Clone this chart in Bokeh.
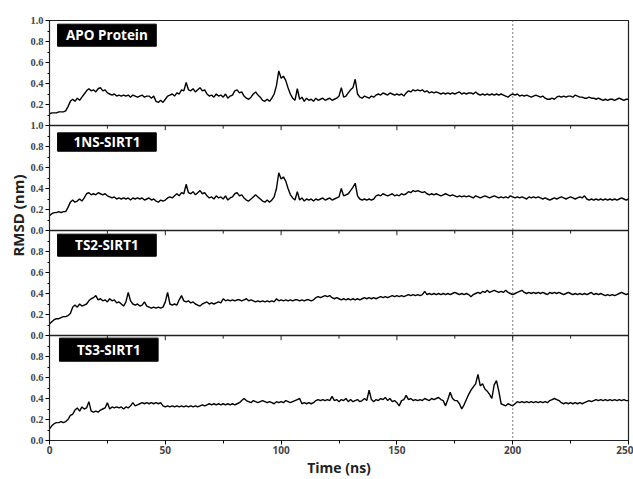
from bokeh.plotting import figure
from bokeh.models import Range1d, LinearAxis, FixedTicker, Span, ColumnDataSource, Title
from bokeh.core.properties import value
from bokeh.embed import file_html
from bokeh.resources import INLINE

# ---------------- data ----------------
time_ns = list(range(0, 251))

rmsd_apo = [
    0.11,0.12,0.12,0.12,0.13,0.13,0.13,0.14,0.18,0.23,
    0.25,0.23,0.26,0.24,0.27,0.30,0.33,0.35,0.33,0.34,
    0.32,0.35,0.36,0.33,0.34,0.31,0.30,0.29,0.30,0.28,
    0.29,0.28,0.29,0.28,0.29,0.27,0.29,0.28,0.27,0.28,
    0.29,0.27,0.28,0.28,0.26,0.28,0.23,0.22,0.24,0.22,
    0.25,0.28,0.29,0.30,0.28,0.31,0.30,0.34,0.33,0.41,
    0.34,0.33,0.35,0.32,0.34,0.36,0.33,0.34,0.30,0.28,
    0.29,0.27,0.30,0.28,0.29,0.27,0.30,0.26,0.28,0.29,
    0.33,0.34,0.31,0.32,0.28,0.26,0.25,0.27,0.30,0.32,
    0.29,0.27,0.24,0.23,0.25,0.23,0.26,0.30,0.38,0.52,
    0.45,0.47,0.43,0.36,0.30,0.26,0.24,0.35,0.25,0.27,
    0.23,0.26,0.24,0.25,0.23,0.26,0.24,0.25,0.26,0.24,
    0.25,0.26,0.24,0.25,0.26,0.28,0.36,0.27,0.28,0.31,
    0.34,0.36,0.44,0.30,0.27,0.26,0.28,0.27,0.26,0.28,
    0.27,0.29,0.30,0.29,0.31,0.30,0.29,0.31,0.30,0.29,
    0.30,0.29,0.30,0.28,0.31,0.33,0.32,0.34,0.33,0.34,
    0.33,0.34,0.32,0.33,0.31,0.32,0.31,0.32,0.31,0.30,
    0.31,0.30,0.31,0.30,0.31,0.30,0.31,0.32,0.30,0.31,
    0.30,0.31,0.31,0.30,0.32,0.30,0.29,0.30,0.29,0.30,
    0.29,0.30,0.29,0.30,0.29,0.30,0.29,0.28,0.27,0.29,
    0.30,0.29,0.30,0.28,0.29,0.28,0.29,0.28,0.27,0.28,
    0.29,0.28,0.27,0.28,0.26,0.25,0.25,0.26,0.25,0.27,
    0.28,0.27,0.28,0.27,0.28,0.28,0.27,0.29,0.28,0.27,
    0.27,0.26,0.26,0.27,0.26,0.26,0.25,0.26,0.25,0.24,
    0.25,0.24,0.25,0.25,0.24,0.25,0.26,0.25,0.24,0.25,0.25,
]

rmsd_1ns = [
    0.14,0.16,0.17,0.17,0.18,0.17,0.18,0.18,0.22,0.27,
    0.29,0.27,0.28,0.30,0.28,0.31,0.35,0.36,0.34,0.35,
    0.34,0.36,0.35,0.34,0.35,0.33,0.32,0.31,0.32,0.30,
    0.31,0.30,0.31,0.30,0.31,0.29,0.31,0.30,0.31,0.30,
    0.31,0.29,0.30,0.31,0.29,0.30,0.28,0.27,0.29,0.28,
    0.29,0.31,0.32,0.31,0.33,0.35,0.33,0.36,0.35,0.44,
    0.36,0.35,0.37,0.34,0.36,0.38,0.35,0.36,0.33,0.31,
    0.32,0.30,0.33,0.31,0.32,0.30,0.33,0.29,0.31,0.32,
    0.35,0.36,0.33,0.34,0.31,0.29,0.28,0.30,0.32,0.34,
    0.32,0.30,0.28,0.27,0.29,0.27,0.29,0.32,0.40,0.55,
    0.49,0.51,0.47,0.40,0.34,0.31,0.29,0.37,0.29,0.31,
    0.28,0.30,0.29,0.30,0.28,0.30,0.29,0.30,0.31,0.29,
    0.30,0.31,0.29,0.30,0.31,0.32,0.40,0.33,0.34,0.35,
    0.38,0.41,0.45,0.33,0.30,0.29,0.30,0.29,0.30,0.29,
    0.30,0.33,0.34,0.33,0.35,0.34,0.33,0.34,0.35,0.33,
    0.34,0.33,0.35,0.34,0.35,0.37,0.36,0.38,0.37,0.38,
    0.37,0.36,0.37,0.35,0.34,0.35,0.34,0.35,0.34,0.33,
    0.34,0.35,0.34,0.33,0.34,0.33,0.32,0.33,0.32,0.33,
    0.32,0.33,0.32,0.31,0.33,0.32,0.31,0.32,0.33,0.32,
    0.31,0.32,0.33,0.32,0.31,0.32,0.31,0.32,0.31,0.33,
    0.32,0.31,0.32,0.31,0.32,0.31,0.30,0.32,0.31,0.32,
    0.31,0.32,0.31,0.30,0.31,0.30,0.29,0.30,0.31,0.30,
    0.31,0.32,0.31,0.30,0.31,0.32,0.31,0.30,0.31,0.32,
    0.31,0.33,0.30,0.29,0.30,0.29,0.30,0.29,0.30,0.29,
    0.30,0.29,0.30,0.29,0.30,0.29,0.30,0.31,0.30,0.29,0.30,
]

rmsd_ts2 = [
    0.11,0.13,0.15,0.16,0.16,0.17,0.18,0.18,0.19,0.21,
    0.27,0.29,0.27,0.30,0.28,0.29,0.30,0.33,0.35,0.36,
    0.38,0.34,0.35,0.33,0.34,0.32,0.35,0.33,0.34,0.31,
    0.32,0.30,0.28,0.32,0.41,0.33,0.30,0.29,0.30,0.28,
    0.29,0.32,0.28,0.27,0.26,0.27,0.26,0.27,0.26,0.27,
    0.32,0.41,0.30,0.29,0.30,0.29,0.34,0.38,0.33,0.32,
    0.33,0.31,0.32,0.30,0.29,0.28,0.30,0.31,0.32,0.30,
    0.31,0.30,0.31,0.32,0.31,0.35,0.33,0.34,0.33,0.34,
    0.33,0.34,0.34,0.33,0.34,0.35,0.33,0.34,0.33,0.32,
    0.33,0.32,0.33,0.32,0.33,0.32,0.33,0.32,0.35,0.33,
    0.34,0.33,0.34,0.33,0.34,0.33,0.34,0.34,0.33,0.34,
    0.33,0.34,0.34,0.33,0.34,0.36,0.37,0.36,0.37,0.38,
    0.37,0.38,0.36,0.35,0.36,0.35,0.34,0.35,0.34,0.35,
    0.34,0.35,0.34,0.35,0.34,0.35,0.36,0.35,0.36,0.35,
    0.36,0.35,0.36,0.37,0.36,0.37,0.36,0.37,0.38,0.37,
    0.38,0.37,0.38,0.37,0.38,0.39,0.38,0.39,0.38,0.39,
    0.38,0.39,0.42,0.39,0.40,0.39,0.40,0.39,0.40,0.39,
    0.40,0.39,0.40,0.39,0.40,0.41,0.40,0.39,0.40,0.39,
    0.40,0.39,0.37,0.39,0.40,0.41,0.40,0.42,0.41,0.43,
    0.41,0.42,0.43,0.42,0.41,0.42,0.41,0.43,0.41,0.40,
    0.39,0.40,0.41,0.42,0.43,0.41,0.40,0.41,0.40,0.41,
    0.40,0.41,0.40,0.41,0.40,0.39,0.41,0.40,0.41,0.40,
    0.41,0.40,0.39,0.40,0.41,0.40,0.39,0.40,0.39,0.40,
    0.39,0.40,0.39,0.40,0.41,0.39,0.40,0.39,0.40,0.39,
    0.38,0.39,0.38,0.39,0.38,0.39,0.40,0.41,0.40,0.39,0.40,
]

rmsd_ts3 = [
    0.11,0.14,0.16,0.17,0.17,0.18,0.17,0.18,0.20,0.24,
    0.25,0.29,0.31,0.28,0.32,0.30,0.31,0.37,0.28,0.27,
    0.28,0.27,0.29,0.30,0.31,0.36,0.30,0.32,0.31,0.32,
    0.31,0.32,0.30,0.32,0.31,0.33,0.36,0.33,0.34,0.35,
    0.36,0.35,0.36,0.35,0.36,0.35,0.36,0.35,0.36,0.33,
    0.32,0.33,0.32,0.33,0.32,0.33,0.32,0.33,0.32,0.33,
    0.32,0.33,0.32,0.33,0.32,0.33,0.34,0.33,0.34,0.35,
    0.34,0.35,0.34,0.35,0.34,0.35,0.34,0.35,0.34,0.35,
    0.34,0.35,0.36,0.38,0.40,0.38,0.37,0.36,0.38,0.37,
    0.36,0.37,0.38,0.37,0.36,0.37,0.36,0.35,0.37,0.36,
    0.37,0.36,0.38,0.37,0.36,0.37,0.38,0.39,0.40,0.35,
    0.36,0.35,0.36,0.35,0.36,0.38,0.39,0.38,0.39,0.38,
    0.39,0.38,0.42,0.38,0.39,0.37,0.39,0.38,0.40,0.37,
    0.39,0.37,0.38,0.39,0.37,0.38,0.40,0.38,0.48,0.39,
    0.37,0.39,0.38,0.40,0.39,0.41,0.38,0.40,0.37,0.38,
    0.36,0.33,0.38,0.39,0.43,0.39,0.40,0.38,0.39,0.38,
    0.39,0.38,0.40,0.39,0.38,0.40,0.39,0.40,0.41,0.39,
    0.38,0.33,0.39,0.46,0.40,0.38,0.38,0.35,0.30,0.34,
    0.39,0.44,0.48,0.51,0.54,0.63,0.52,0.54,0.49,0.47,
    0.44,0.40,0.53,0.57,0.47,0.35,0.34,0.33,0.35,0.34,
    0.33,0.35,0.37,0.36,0.37,0.36,0.37,0.36,0.37,0.36,
    0.37,0.36,0.37,0.36,0.37,0.36,0.38,0.39,0.40,0.39,
    0.38,0.36,0.35,0.36,0.35,0.36,0.35,0.36,0.35,0.36,
    0.35,0.36,0.37,0.38,0.37,0.38,0.39,0.38,0.39,0.38,
    0.39,0.38,0.39,0.38,0.39,0.38,0.39,0.38,0.39,0.38,0.38,
]

panel_names = ["APO Protein", "1NS-SIRT1", "TS2-SIRT1", "TS3-SIRT1"]
panel_series = [rmsd_apo, rmsd_1ns, rmsd_ts2, rmsd_ts3]

x_major_ticks = [0, 50, 100, 150, 200, 250]
x_minor_ticks = [25, 75, 125, 175, 225]
y_tick_values = [round(i * 0.2, 1) for i in range(21)]
y_tick_text = ["0.0", "0.2", "0.4", "0.6", "0.8",
               "0.0", "0.2", "0.4", "0.6", "0.8",
               "0.0", "0.2", "0.4", "0.6", "0.8",
               "1.0", "0.2", "0.4", "0.6", "0.8", "1.0"]
y_minor_values = [round(0.1 + i * 0.2, 1) for i in range(20)]
marker_time = 200
y_title = "RMSD (nm)"
x_title = "Time (ns)"

# ---------------- figure ----------------
n = len(panel_names)
p = figure(width=633, height=479, output_backend="svg", toolbar_location=None,
           x_range=Range1d(0, 250), y_range=Range1d(0, n),
           min_border_left=49, min_border_top=20, min_border_right=5,
           min_border_bottom=35, x_axis_type=None, y_axis_type=None)
p.grid.visible = False
p.outline_line_color = "#222222"
p.outline_line_width = 1.2
p.background_fill_color = "white"
p.border_fill_color = "white"

# per-panel ranges (panel 0 at top)
for i in range(n):
    k = n - 1 - i  # stacking index from bottom
    p.extra_y_ranges[f"panel{i}"] = Range1d(-k, n - k)

# boundaries between panels
for b in range(1, n):
    p.add_layout(Span(location=b, dimension="width", line_color="#222222", line_width=1.4))

# tick marks along inner boundaries
bx, by0, by1 = [], [], []
for b in range(1, n):
    for t in x_major_ticks:
        bx.append(t); by0.append(b); by1.append(b - 0.045)
    for t in x_minor_ticks:
        bx.append(t); by0.append(b); by1.append(b - 0.03)
p.segment(x0=bx, y0=by0, x1=bx, y1=by1, line_color="#222222", line_width=1)

# dotted marker
p.add_layout(Span(location=marker_time, dimension="height", line_color="#333333",
                  line_dash="1 3", line_width=1.3))

box_tops = [0.965, 0.93, 0.965, 0.975]
box_left = [3.5, 3.5, 3.5, 4.3]
box_width = 42.6
for i, (name, series) in enumerate(zip(panel_names, panel_series)):
    rn = f"panel{i}"
    src = ColumnDataSource(dict(t=time_ns, v=series))
    p.line("t", "v", source=src, y_range_name=rn, line_color="black", line_width=1.4)
    p.quad(left=[box_left[i]], right=[box_left[i] + box_width], bottom=[0.755], top=[box_tops[i]],
           y_range_name=rn, fill_color="black", line_color="black")
    p.text(x=[box_left[i] + box_width / 2], y=[(0.755 + box_tops[i]) / 2], text=[name],
           y_range_name=rn, text_color="white", text_font=value("Open Sans"),
           text_font_style="bold", text_font_size="13.5px", text_align="center",
           text_baseline="middle")

# y axis
yax = LinearAxis(ticker=FixedTicker(ticks=y_tick_values, minor_ticks=y_minor_values))
yax.major_label_overrides = {v: s for v, s in zip(y_tick_values, y_tick_text)}
yax.major_label_text_font = "Liberation Serif"
yax.major_label_text_font_style = "bold"
yax.major_label_text_font_size = "10.5px"
yax.major_label_standoff = 2
yax.major_tick_out = 4
yax.major_tick_in = 0
yax.minor_tick_out = 2
yax.minor_tick_in = 0
yax.axis_line_color = "#222222"
p.add_layout(yax, "left")

# y title, placed slightly above the centre as in the reference
p.add_layout(Title(text=y_title, align="right", offset=154, standoff=0,
                   text_font="Open Sans", text_font_style="bold", text_font_size="15px",
                   text_color="#222222"), "left")

# x axis
xax = LinearAxis(ticker=FixedTicker(ticks=x_major_ticks, minor_ticks=x_minor_ticks))
xax.axis_label = x_title
xax.axis_label_text_font = "Open Sans"
xax.axis_label_text_font_style = "bold"
xax.axis_label_text_font_size = "14px"
xax.axis_label_text_color = "#222222"
xax.axis_label_standoff = 1
xax.major_label_text_font = "Open Sans"
xax.major_label_text_font_style = "bold"
xax.major_label_text_font_size = "10px"
xax.major_label_standoff = 1
xax.major_tick_out = 4
xax.major_tick_in = 0
xax.minor_tick_out = 3
xax.minor_tick_in = 0
xax.axis_line_color = "#222222"
p.add_layout(xax, "below")

open("out.html", "w").write(file_html(p, INLINE))
